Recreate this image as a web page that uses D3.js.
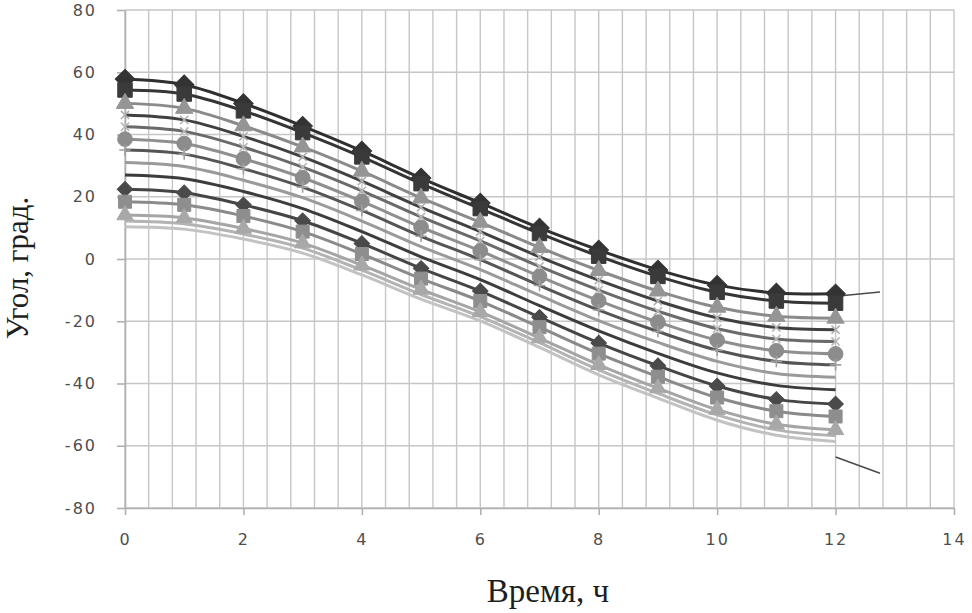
<!DOCTYPE html>
<html>
<head>
<meta charset="utf-8">
<script src="https://cdn.jsdelivr.net/npm/d3@7"></script>
<style>
  html, body { margin: 0; padding: 0; background: #fff; }
  svg { display: block; }
</style>
</head>
<body>
<svg id="chart" width="972" height="613"></svg>
<script>
// hours on the x axis
const hours = [0, 1, 2, 3, 4, 5, 6, 7, 8, 9, 10, 11, 12];

// angle curves (top to bottom)
const s1 = [57.8, 56.0, 50.0, 42.7, 34.7, 26.0, 18.0, 10.0, 2.9, -3.5, -8.4, -10.9, -11.2];
const s2 = [54.3, 53.0, 47.6, 40.6, 32.8, 24.2, 16.2, 8.2, 0.9, -5.6, -10.7, -13.5, -14.2];
const s3 = [50.0, 48.4, 42.8, 36.0, 28.2, 19.6, 11.8, 3.7, -3.7, -10.3, -15.5, -18.4, -19.0];
const s4 = [46.3, 44.7, 39.4, 32.8, 25.0, 16.6, 8.8, 0.7, -6.8, -13.5, -18.9, -22.0, -22.7];
const s5 = [42.5, 41.0, 35.9, 29.5, 21.9, 13.5, 5.8, -2.4, -10.0, -16.8, -22.4, -25.7, -26.5];
const s6 = [38.5, 37.1, 32.2, 26.1, 18.5, 10.2, 2.6, -5.6, -13.4, -20.3, -26.1, -29.5, -30.5];
const s7 = [35.0, 33.7, 29.0, 23.1, 15.6, 7.3, -0.2, -8.5, -16.4, -23.3, -29.3, -32.9, -34.0];
const s8 = [31.0, 29.7, 25.3, 19.7, 12.2, 4.0, -3.4, -11.7, -19.8, -26.8, -32.9, -36.8, -38.0];
const s9 = [27.0, 25.8, 21.7, 16.2, 8.8, 0.7, -6.6, -15.0, -23.1, -30.3, -36.6, -40.6, -42.0];
const s10 = [22.4, 21.3, 17.4, 12.3, 5.0, -3.0, -10.3, -18.7, -27.0, -34.3, -40.8, -45.1, -46.6];
const s11 = [18.4, 17.4, 13.8, 8.8, 1.6, -6.3, -13.5, -21.9, -30.4, -37.8, -44.5, -48.9, -50.6];
const s12 = [14.1, 13.2, 9.8, 5.1, -2.0, -9.8, -17.0, -25.4, -34.0, -41.5, -48.4, -53.1, -54.9];
const s13 = [12.2, 11.3, 8.0, 3.5, -3.6, -11.4, -18.5, -26.9, -35.6, -43.2, -50.1, -54.9, -56.8];
const s14 = [10.4, 9.6, 6.4, 1.9, -5.1, -12.9, -19.9, -28.4, -37.2, -44.7, -51.8, -56.6, -58.6];

const allSeries = [s1, s2, s3, s4, s5, s6, s7, s8, s9, s10, s11, s12, s13, s14];
const markers = ["diamond", "square", "triangle", "times", "times", "circle", "plus",
                 "none", "none", "diamond", "square", "triangle", "none", "none"];
const lineColors = ["#2f2f2f", "#353535", "#8a8a8a", "#404040", "#6a6a6a", "#8f8f8f", "#555555",
                    "#9a9a9a", "#3c3c3c", "#454545", "#8a8a8a", "#a5a5a5", "#b3b3b3", "#c2c2c2"];
const markerColors = ["#333333", "#3a3a3a", "#959595", "#b0b0b0", "#b8b8b8", "#8c8c8c", "#a0a0a0",
                      "#999", "#999", "#4a4a4a", "#8e8e8e", "#a8a8a8", "#aaa", "#aaa"];
const markerSizes = [190, 210, 130, 45, 45, 170, 45, 0, 0, 120, 170, 115, 0, 0];

// the two short strokes right of the curves
const tailTop = [[12.05, -11.9], [12.75, -10.6]];
const tailBottom = [[12.0, -63.6], [12.75, -68.8]];

const xTicks = [0, 2, 4, 6, 8, 10, 12, 14];
const yTicks = [-80, -60, -40, -20, 0, 20, 40, 60, 80];
const xTitle = "Время, ч";
const yTitle = "Угол, град.";

const svg = d3.select("#chart");
const plotLeft = 125, plotRight = 954, plotTop = 10, plotBottom = 508;

const x = d3.scaleLinear().domain([0, 14]).range([plotLeft, plotRight]);
const y = d3.scaleLinear().domain([-80, 80]).range([plotBottom, plotTop]);

// grid: minor vertical every 0.4, horizontal at major ticks
const grid = svg.append("g").attr("class", "grid");
grid.selectAll("line.v")
  .data(d3.range(0, 35 + 1).map((i) => +(i * 0.4).toFixed(1)))
  .enter()
  .append("line")
  .attr("class", "v")
  .attr("x1", (d) => x(d))
  .attr("x2", (d) => x(d))
  .attr("y1", plotTop)
  .attr("y2", plotBottom)
  .style("stroke", "#c6c6c6")
  .style("stroke-width", "1.4px");
grid.selectAll("line.h")
  .data(yTicks)
  .enter()
  .append("line")
  .attr("class", "h")
  .attr("x1", plotLeft)
  .attr("x2", plotRight)
  .attr("y1", (d) => y(d))
  .attr("y2", (d) => y(d))
  .style("stroke", "#c6c6c6")
  .style("stroke-width", "1.4px");

// axes
const xAxis = svg.append("g")
  .attr("transform", `translate(0, ${plotBottom})`)
  .call(d3.axisBottom(x).tickValues(xTicks).tickSize(7).tickPadding(19).tickSizeOuter(0));
const yAxis = svg.append("g")
  .attr("transform", `translate(${plotLeft}, 0)`)
  .call(d3.axisLeft(y).tickValues(yTicks).tickSize(8).tickPadding(20).tickSizeOuter(0));

[xAxis, yAxis].forEach((ax) => {
  ax.select(".domain").style("stroke", "#b0b0b0").style("stroke-width", "1.6px");
  ax.selectAll(".tick line").style("stroke", "#b0b0b0").style("stroke-width", "1.6px");
  ax.selectAll(".tick text")
    .style("font-family", "'DejaVu Sans', sans-serif")
    .style("font-size", "16px")
    .style("letter-spacing", "2px")
    .style("fill", "#4e4e4e");
});
yAxis.selectAll(".tick text").text((d) => String(d));

// curves
const line = d3.line()
  .x((d, i) => x(hours[i]))
  .y((d) => y(d))
  .curve(d3.curveCatmullRom.alpha(0));

svg.append("g")
  .attr("class", "lines")
  .selectAll("path")
  .data(allSeries)
  .enter()
  .append("path")
  .attr("d", (d) => line(d))
  .attr("fill", "none")
  .style("stroke", (d, i) => lineColors[i])
  .style("stroke-width", "3px");

// short strokes
const segLine = d3.line().x((d) => x(d[0])).y((d) => y(d[1]));
svg.append("g")
  .selectAll("path")
  .data([tailTop, tailBottom])
  .enter()
  .append("path")
  .attr("d", (d) => segLine(d))
  .attr("fill", "none")
  .style("stroke", "#4a4a4a")
  .style("stroke-width", "1.6px");

// markers
const symbolFor = {
  diamond: d3.symbolSquare,
  square: d3.symbolSquare,
  triangle: d3.symbolTriangle,
  circle: d3.symbolCircle,
  times: d3.symbolTimes || d3.symbolCross,
  plus: d3.symbolPlus || d3.symbolCross,
};
const stroked = { times: true, plus: true };

allSeries.forEach((series, si) => {
  const kind = markers[si];
  if (kind === "none") return;
  const path = d3.symbol().type(symbolFor[kind]).size(markerSizes[si])();
  svg.append("g")
    .attr("class", "markers")
    .selectAll("path")
    .data(series)
    .enter()
    .append("path")
    .attr("d", path)
    .attr("transform", (d, i) =>
      `translate(${x(hours[i])}, ${y(d)})` + (kind === "diamond" ? " rotate(45)" : ""))
    .attr("fill", stroked[kind] ? "none" : markerColors[si])
    .style("stroke", markerColors[si])
    .style("stroke-width", stroked[kind] ? "1.6px" : "1px");
});

// titles
svg.append("text")
  .attr("x", 548)
  .attr("y", 602)
  .attr("text-anchor", "middle")
  .style("font-family", "'Liberation Serif', serif")
  .style("font-size", "33px")
  .style("fill", "#1e1e1e")
  .text(xTitle);

svg.append("text")
  .attr("transform", "translate(28, 268) rotate(-90)")
  .attr("text-anchor", "middle")
  .style("font-family", "'Liberation Serif', serif")
  .style("font-size", "31px")
  .style("fill", "#1e1e1e")
  .text(yTitle);
</script>
</body>
</html>
